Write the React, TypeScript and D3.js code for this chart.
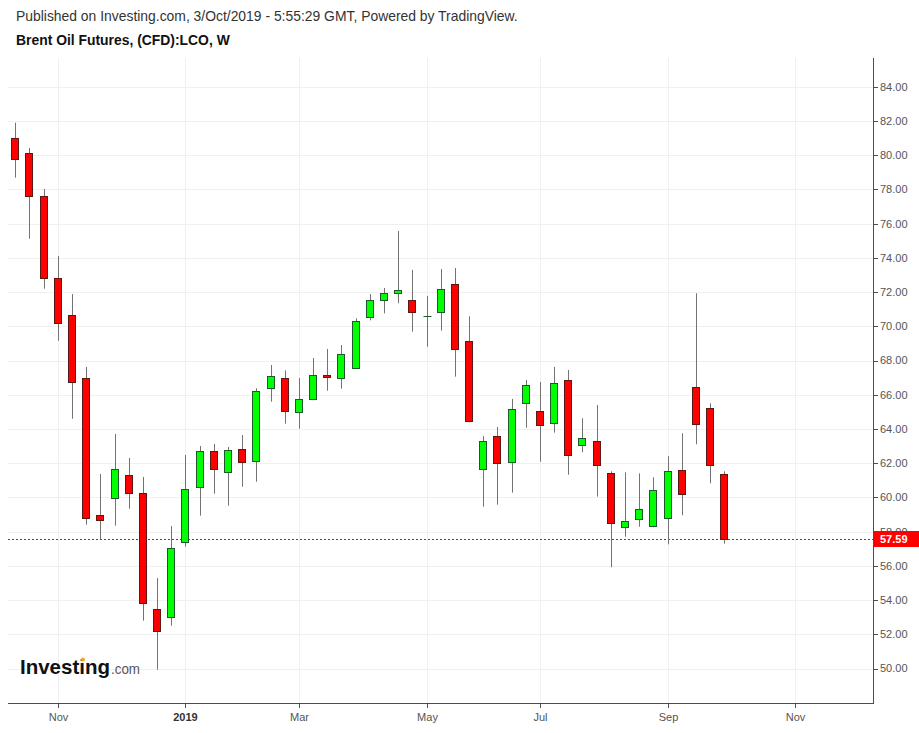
import React from "react";
import * as d3 from "d3";

const opens = [80.99, 80.12, 77.6, 72.81, 70.65, 66.97, 58.96, 59.95, 61.3, 60.24, 53.46, 53.0, 57.38, 60.59, 62.7, 61.47, 62.82, 62.11, 66.38, 66.97, 64.98, 65.74, 67.14, 66.97, 67.55, 70.53, 71.52, 71.93, 71.52, 70.58, 70.82, 72.46, 69.13, 61.65, 63.58, 62.06, 65.5, 65.04, 64.34, 66.85, 63.05, 63.28, 61.41, 58.26, 58.72, 58.32, 58.78, 61.59, 66.44, 65.21, 61.35];
const highs = [81.9, 80.42, 78.03, 74.11, 71.89, 67.63, 61.37, 63.71, 62.31, 61.2, 55.29, 58.33, 62.48, 63.01, 63.13, 62.95, 63.65, 66.38, 67.74, 67.43, 66.98, 68.15, 68.68, 68.91, 70.47, 71.89, 72.24, 75.57, 73.3, 71.78, 73.35, 73.41, 70.59, 63.58, 64.12, 65.76, 66.87, 66.75, 67.63, 67.45, 64.63, 65.4, 61.53, 61.47, 61.41, 61.18, 62.41, 63.75, 71.93, 65.5, 61.53];
const lows = [78.69, 75.12, 72.2, 69.16, 64.6, 58.41, 57.56, 58.35, 59.34, 52.8, 49.93, 52.51, 57.12, 58.94, 60.22, 59.52, 60.63, 60.92, 65.6, 64.31, 64.02, 65.68, 66.24, 66.36, 67.5, 70.35, 70.76, 71.35, 69.69, 68.81, 69.75, 67.06, 64.39, 59.46, 59.58, 60.28, 64.08, 62.09, 63.79, 61.33, 62.64, 60.05, 55.92, 57.71, 58.29, 58.26, 57.26, 58.96, 63.11, 60.83, 57.3];
const closes = [79.76, 77.6, 72.81, 70.18, 66.73, 58.78, 58.67, 61.65, 60.24, 53.82, 52.18, 57.03, 60.48, 62.7, 61.65, 62.76, 62.06, 66.21, 67.08, 65.04, 65.74, 67.14, 67.02, 68.37, 70.3, 71.52, 71.93, 72.11, 70.82, 70.6, 72.17, 68.66, 64.45, 63.28, 62.0, 65.16, 66.56, 64.22, 66.67, 62.47, 63.46, 61.88, 58.49, 58.61, 59.31, 60.42, 61.53, 60.19, 64.28, 61.88, 57.59];

const xTickIndex = [3, 12, 20, 29, 37, 46, 55];
const xTickLabels = ["Nov", "2019", "Mar", "May", "Jul", "Sep", "Nov"];
const yTicks = [50, 52, 54, 56, 58, 60, 62, 64, 66, 68, 70, 72, 74, 76, 78, 80, 82, 84];

const W = 919;
const H = 733;
const plotLeft = 8;
const plotRight = 873;
const plotTop = 58;
const plotBottom = 703;
const FONT = "'Liberation Sans', Arial, sans-serif";

export default function App() {
  const x = d3.scaleLinear().domain([0, 50]).range([15.3, 724.3]);
  const y = d3.scaleLinear().domain([58, 82]).range([531.7, 121]);
  const last = closes[closes.length - 1];
  const yLast = y(last);
  const crisp = (v: number) => Math.round(v) + 0.5;

  return (
    <svg
      width={W}
      height={H}
      style={{ position: "absolute", left: 0, top: 0, background: "#fff", fontFamily: FONT }}
    >
      <rect x={0} y={0} width={W} height={H} fill="#fff" />
      <text x={16} y={21} fontSize={13.9} fill="#333">
        Published on Investing.com, 3/Oct/2019 - 5:55:29 GMT, Powered by TradingView.
      </text>
      <text x={16} y={45} fontSize={13.9} fontWeight="bold" fill="#111">
        Brent Oil Futures, (CFD):LCO, W
      </text>

      {/* grid */}
      <g stroke="#f0f0f0" strokeWidth={1}>
        {yTicks.map((t) => (
          <line key={"hy" + t} x1={plotLeft} x2={plotRight} y1={crisp(y(t))} y2={crisp(y(t))} />
        ))}
        {xTickIndex.map((t, k) => (
          <line key={"vx" + k} x1={crisp(x(t))} x2={crisp(x(t))} y1={plotTop} y2={plotBottom} />
        ))}
      </g>

      {/* logo */}
      <g>
        <text x={20} y={674} fontSize={21} fontWeight="bold" fill="#111" textLength={90} lengthAdjust="spacingAndGlyphs">
          Investing
        </text>
        <circle cx={83} cy={659.5} r={2} fill="#f5a623" />
        <text x={111} y={674} fontSize={14} fill="#555" textLength={29} lengthAdjust="spacingAndGlyphs">
          .com
        </text>
      </g>

      {/* last price line */}
      <line
        x1={plotLeft}
        x2={plotRight}
        y1={crisp(yLast)}
        y2={crisp(yLast)}
        stroke="#ff0000"
        strokeWidth={1}
        strokeDasharray="2,2"
      />

      {/* candles */}
      <g>
        {opens.map((o, i) => {
          const c = closes[i];
          const up = c >= o;
          const cx = crisp(x(i));
          const top = Math.round(y(Math.max(o, c))) + 0.5;
          const bot = Math.round(y(Math.min(o, c))) + 0.5;
          const fill = up ? "#00ff00" : "#ff0000";
          const stroke = up ? "#1d5a2b" : "#5e1717";
          return (
            <g key={i}>
              <line x1={cx} x2={cx} y1={y(highs[i])} y2={y(lows[i])} stroke="#737373" strokeWidth={1} />
              {bot - top < 1 ? (
                <line x1={cx - 4} x2={cx + 4} y1={top} y2={top} stroke={stroke} strokeWidth={1} />
              ) : (
                <rect x={cx - 4} y={top} width={7} height={bot - top} fill={fill} stroke={stroke} strokeWidth={1} />
              )}
            </g>
          );
        })}
      </g>

      {/* axes */}
      <line x1={plotLeft} x2={plotRight} y1={plotBottom + 0.5} y2={plotBottom + 0.5} stroke="#4d4d4d" strokeWidth={1} />
      <line x1={plotRight + 0.5} x2={plotRight + 0.5} y1={plotTop} y2={plotBottom + 1} stroke="#4d4d4d" strokeWidth={1} />
      {xTickIndex.map((t, k) => (
        <g key={"xt" + k}>
          <line x1={crisp(x(t))} x2={crisp(x(t))} y1={plotBottom + 1} y2={plotBottom + 5} stroke="#4d4d4d" />
          <text
            x={crisp(x(t))}
            y={721}
            fontSize={11}
            textAnchor="middle"
            fill={xTickLabels[k] === "2019" ? "#333" : "#555"}
            fontWeight={xTickLabels[k] === "2019" ? "bold" : "normal"}
          >
            {xTickLabels[k]}
          </text>
        </g>
      ))}
      {yTicks.map((t) => (
        <g key={"yt" + t}>
          <line x1={plotRight + 1} x2={plotRight + 5} y1={crisp(y(t))} y2={crisp(y(t))} stroke="#4d4d4d" />
          <text x={880} y={y(t)} dy="0.35em" fontSize={11} fill="#555">
            {t.toFixed(2)}
          </text>
        </g>
      ))}

      {/* last price label */}
      <rect x={plotRight + 1} y={Math.round(yLast) - 8} width={W - plotRight - 1} height={16} fill="#ff0000" />
      <text x={880} y={yLast} dy="0.35em" fontSize={11} fontWeight="bold" fill="#fff">
        {last.toFixed(2)}
      </text>
    </svg>
  );
}
